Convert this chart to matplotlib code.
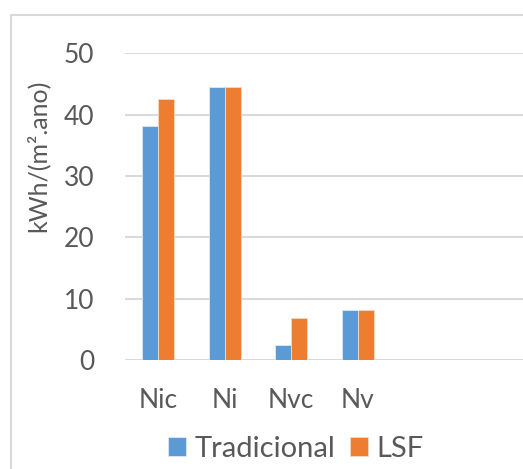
import matplotlib
matplotlib.use('Agg')
import matplotlib.pyplot as plt
import matplotlib.patches as patches
import numpy as np

categories = ['Nic', 'Ni', 'Nvc', 'Nv']
tradicional = [38.2, 44.5, 2.4, 8.2]
lsf = [42.5, 44.5, 6.8, 8.2]
yticks = [0, 10, 20, 30, 40, 50]

plt.rcParams['font.family'] = ['Lato', 'DejaVu Sans']
grey = '#595959'

fig = plt.figure(figsize=(5.23, 4.69), dpi=100)
ax = fig.add_axes([0.239, 0.2324, 0.763, 0.654])

x = np.arange(len(categories))
w = 0.24
ax.bar(x - w / 2, tradicional, w, color='#5B9BD5', edgecolor='#dfe9f5', linewidth=0.6,
       label='Tradicional', zorder=3)
ax.bar(x + w / 2, lsf, w, color='#ED7D31', edgecolor='#f7d9c4', linewidth=0.6,
       label='LSF', zorder=3)

# six category slots, last two empty
ax.set_xlim(-0.5, 5.5)
ax.set_ylim(0, 50)
ax.set_yticks(yticks)
ax.set_xticks(x)
ax.set_xticklabels(categories)
ax.tick_params(axis='both', length=0, labelsize=19, colors=grey)
ax.tick_params(axis='y', pad=22)
ax.tick_params(axis='x', pad=20)
ax.grid(axis='y', color='#d9d9d9', linewidth=1.5, zorder=0)
for s in ax.spines.values():
    s.set_visible(False)

fig.text(38 / 523, 0.667, 'kWh/(m\u00b2.ano)', rotation=90, ha='center', va='center',
         fontsize=18, color=grey)

leg = fig.legend(loc='center', bbox_to_anchor=(296 / 523, 1 - 449 / 469), ncol=2,
                 frameon=False, fontsize=21, handlelength=0.6, handleheight=0.6,
                 handletextpad=0.3, columnspacing=0.5, borderpad=0)
for t in leg.get_texts():
    t.set_color(grey)

# outer chart border (Excel chart area)
fig.patches.append(patches.Rectangle((11 / 523, -0.1), 2, 1 - 15 / 469 + 0.1,
                                     transform=fig.transFigure, fill=False,
                                     edgecolor='#d9d9d9', linewidth=1.5))

plt.savefig('out.png', dpi=100)
